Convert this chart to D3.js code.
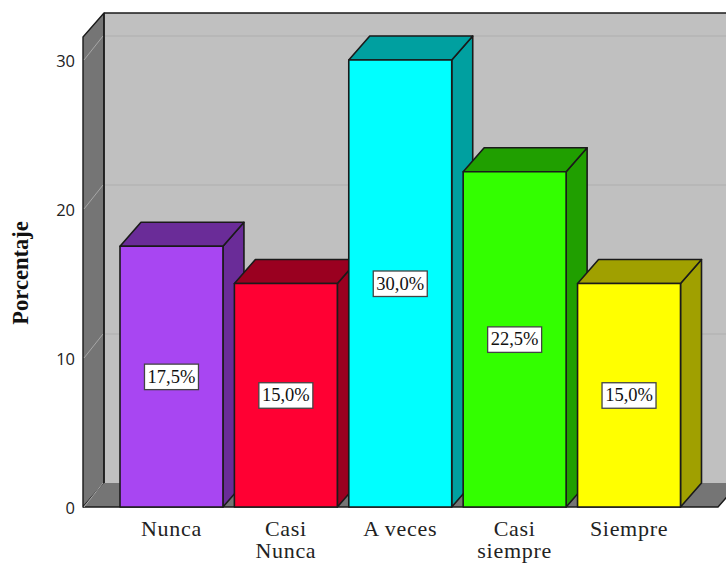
<!DOCTYPE html>
<html>
<head>
<meta charset="utf-8">
<style>
html,body{margin:0;padding:0;background:#fff;}
svg{display:block;}
</style>
<script src="https://cdn.jsdelivr.net/npm/d3@7/dist/d3.min.js"></script>
</head>
<body>
<div id="chart"></div>
<script>
// Survey responses as percentages, one 3D column per category
const categories = ["Nunca", "Casi Nunca", "A veces", "Casi siempre", "Siempre"];
const categoryLines = [["Nunca"], ["Casi", "Nunca"], ["A veces"], ["Casi", "siempre"], ["Siempre"]];
const percentages = [17.5, 15.0, 30.0, 22.5, 15.0];
const valueLabels = ["17,5%", "15,0%", "30,0%", "22,5%", "15,0%"];
const frontColors = ["#a846f2", "#ff0033", "#00ffff", "#33ff00", "#ffff00"];
const sideColors = ["#6a2c98", "#9a0020", "#00a0a0", "#209f00", "#a0a000"];
const yTicks = [0, 10, 20, 30];
const yTitle = "Porcentaje";

const width = 726, height = 563;
const depthX = 21, depthY = -24;   // oblique projection of the chart depth

const y = d3.scaleLinear().domain([0, 30]).range([507, 60]);
const x = d3.scaleBand().domain(categories).range([120, 680.5]).paddingInner(0.1).paddingOuter(0);

const floorLeft = 83, floorRight = 718;
const wallTop = 13;
const base = y(0);

const svg = d3.select("#chart").append("svg").attr("width", width).attr("height", height);
const line = d3.line();
const poly = pts => line(pts) + "Z";
const ink = "#1a1a1a";

// Back wall
svg.append("rect")
  .attr("x", floorLeft + depthX).attr("y", wallTop)
  .attr("width", width - floorLeft - depthX + 1).attr("height", base + depthY - wallTop)
  .attr("fill", "#c0c0c0");
svg.append("path")
  .attr("d", line([[floorLeft + depthX, wallTop], [width + 1, wallTop]]))
  .attr("stroke", ink).attr("stroke-width", 1.6).attr("fill", "none");

// Side wall and floor
svg.append("path")
  .attr("d", poly([[floorLeft, wallTop - depthY], [floorLeft + depthX, wallTop], [floorLeft + depthX, base + depthY], [floorLeft, base]]))
  .attr("fill", "#757575").attr("stroke", ink).attr("stroke-width", 1.4).attr("stroke-linejoin", "round");
svg.append("path")
  .attr("d", poly([[floorLeft, base], [floorLeft + depthX, base + depthY], [floorRight + depthX, base + depthY], [floorRight, base]]))
  .attr("fill", "#757575");
svg.append("path")
  .attr("d", line([[floorLeft, base], [floorRight, base], [floorRight + depthX, base + depthY]]))
  .attr("stroke", ink).attr("stroke-width", 1.4).attr("fill", "none");

// Gridlines run along the side wall and then across the back wall
yTicks.forEach(d => {
  svg.append("path")
    .attr("d", line([[floorLeft + 1, y(d)], [floorLeft + depthX - 1, y(d) + depthY]]))
    .attr("stroke", "#a6a6a6").attr("stroke-width", 1).attr("fill", "none");
  if (d > 0) {
    svg.append("path")
      .attr("d", line([[floorLeft + depthX + 1, y(d) + depthY], [width, y(d) + depthY]]))
      .attr("stroke", "#b4b4b4").attr("stroke-width", 1.6).attr("fill", "none");
  }
});
svg.append("path")
  .attr("d", line([[floorLeft + depthX, wallTop], [floorLeft + depthX, base + depthY]]))
  .attr("stroke", ink).attr("stroke-width", 1.4).attr("fill", "none");

// Columns
const bars = svg.selectAll("g.bar").data(categories).join("g").attr("class", "bar");
bars.each(function (c, i) {
  const g = d3.select(this);
  const x0 = x(c), x1 = x0 + x.bandwidth(), yt = y(percentages[i]);
  g.append("path").attr("d", poly([[x1, yt], [x1 + depthX, yt + depthY], [x1 + depthX, base + depthY], [x1, base]]))
    .attr("fill", sideColors[i]);
  g.append("path").attr("d", poly([[x0, yt], [x0 + depthX, yt + depthY], [x1 + depthX, yt + depthY], [x1, yt]]))
    .attr("fill", sideColors[i]);
  g.append("rect").attr("x", x0).attr("y", yt).attr("width", x.bandwidth()).attr("height", base - yt)
    .attr("fill", frontColors[i]);
  g.selectAll("path,rect").attr("stroke", ink).attr("stroke-width", 1.6).attr("stroke-linejoin", "round");
});

// Value labels in boxes at mid height of each column
bars.each(function (c, i) {
  const g = d3.select(this);
  const cx = x(c) + x.bandwidth() / 2, cy = y(percentages[i] / 2);
  g.append("rect").attr("x", cx - 27).attr("y", cy - 12.5).attr("width", 54).attr("height", 25.5)
    .attr("fill", "#fff").attr("stroke", "#444").attr("stroke-width", 1.3);
  g.append("text").attr("x", cx).attr("y", cy + 6).attr("text-anchor", "middle")
    .attr("font-family", "'Liberation Serif', serif").attr("font-size", 18.5).attr("fill", "#111")
    .text(valueLabels[i]);
});

// Value axis labels
svg.selectAll("text.ytick").data(yTicks).join("text").attr("class", "ytick")
  .attr("x", 75).attr("y", d => y(d) + 7).attr("text-anchor", "end")
  .attr("font-family", "'Open Sans', sans-serif").attr("font-size", 16.5).attr("fill", "#222")
  .text(d => d);

svg.append("text")
  .attr("transform", "translate(28,273) rotate(-90)").attr("text-anchor", "middle")
  .attr("font-family", "'Liberation Serif', serif").attr("font-weight", "bold").attr("font-size", 22.5).attr("fill", "#111")
  .text(yTitle);

// Category labels, wrapped on two lines where needed
const catLabels = svg.selectAll("text.cat").data(categories).join("text").attr("class", "cat")
  .attr("text-anchor", "middle")
  .attr("font-family", "'Liberation Serif', serif").attr("font-size", 22).attr("letter-spacing", 0.7).attr("fill", "#222");
catLabels.each(function (c, i) {
  const t = d3.select(this);
  categoryLines[i].forEach((s, k) => {
    t.append("tspan").attr("x", x(c) + x.bandwidth() / 2).attr("y", 535.5 + k * 22.5).text(s);
  });
});
</script>
</body>
</html>
